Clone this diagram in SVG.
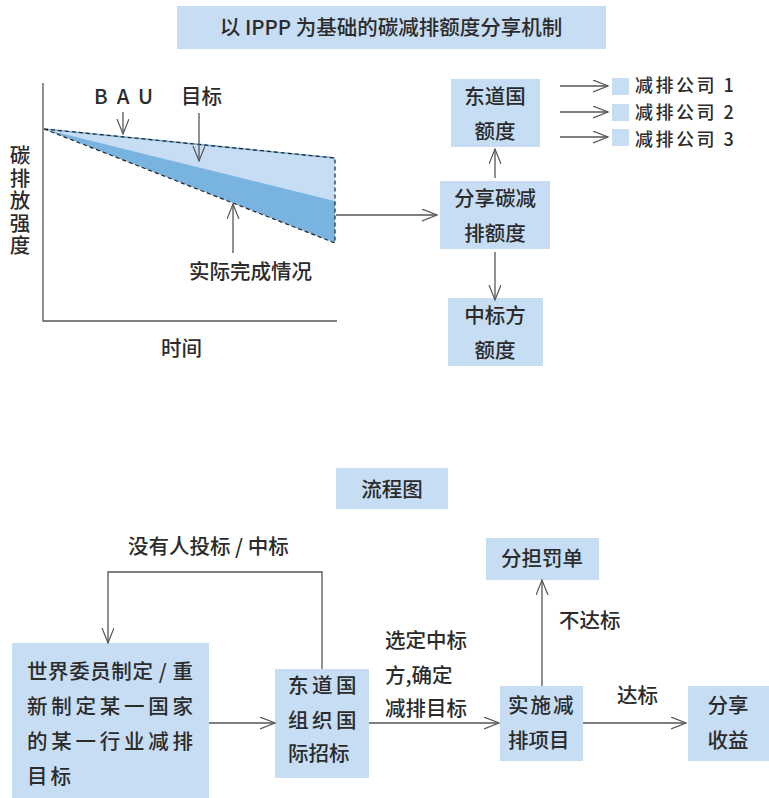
<svg xmlns="http://www.w3.org/2000/svg" width="769" height="798" viewBox="0 0 769 798">
<style>
text{font-family:"Noto Sans CJK SC","Liberation Sans",sans-serif;fill:#2b2b2b;font-size:20.5px;font-weight:500}
.box{fill:#c6ddf3}
.ln{stroke:#555;stroke-width:1.3;fill:none}
.c{text-anchor:middle}
.sp{letter-spacing:3px}
.co{font-size:18px;letter-spacing:2.5px}
</style>
<defs>
<marker id="ah" markerUnits="userSpaceOnUse" markerWidth="20" markerHeight="14" refX="15" refY="6" orient="auto" viewBox="0 0 20 14">
<path d="M0,0 L15,6 L0,12" fill="none" stroke="#555" stroke-width="1.2"/>
</marker>
</defs>
<rect width="769" height="798" fill="#fff"/>

<g id="title">
<rect class="box" x="177" y="6" width="429" height="43"/>
<text class="c" x="391" y="35">以 IPPP 为基础的碳减排额度分享机制</text>
</g>

<g id="chart">
<polygon points="44,129 335,158 335,201" fill="#c6ddf3"/>
<polygon points="44,129 335,201 335,243" fill="#79b4e1"/>
<path d="M44,129 L335,158" stroke="#79b4e1" stroke-width="1.5" fill="none"/>
<path d="M44,129 L335,158 L335,243 L44,129" stroke="#222" stroke-width="1.2" stroke-dasharray="4,3" fill="none"/>
<path d="M43,83 L43,321 L337,321" stroke="#555" stroke-width="1.3" fill="none"/>
<text x="94" y="104" style="letter-spacing:9px">BAU</text>
<text x="181" y="104">目标</text>
<text x="189" y="279">实际完成情况</text>
<text x="161" y="356">时间</text>
<text x="20" y="145" style="writing-mode:vertical-rl;letter-spacing:2px">碳排放强度</text>
</g>

<g id="n-host">
<rect class="box" x="451" y="79" width="89" height="68"/>
<text class="c" x="495" y="104">东道国</text>
<text class="c" x="495" y="139">额度</text>
</g>
<g id="n-share">
<rect class="box" x="440" y="181" width="110" height="68"/>
<text class="c" x="495" y="206">分享碳减</text>
<text class="c" x="495" y="241">排额度</text>
</g>
<g id="n-winner">
<rect class="box" x="448" y="298" width="95" height="68"/>
<text class="c" x="495" y="323">中标方</text>
<text class="c" x="495" y="358">额度</text>
</g>
<g id="n-c1">
<rect class="box" x="612" y="78" width="17" height="17"/>
<text class="co" x="635" y="92">减排公司 1</text>
</g>
<g id="n-c2">
<rect class="box" x="612" y="104" width="17" height="17"/>
<text class="co" x="635" y="119">减排公司 2</text>
</g>
<g id="n-c3">
<rect class="box" x="612" y="129" width="17" height="17"/>
<text class="co" x="635" y="146">减排公司 3</text>
</g>

<g id="n-flowtitle">
<rect class="box" x="336" y="468" width="112" height="41"/>
<text class="c" x="392" y="497">流程图</text>
</g>
<g id="n-world">
<rect class="box" x="12" y="643" width="197" height="155"/>
<text x="27" y="679" textLength="166" lengthAdjust="spacing">世界委员制定 / 重</text>
<text x="27" y="714" textLength="166" lengthAdjust="spacing">新制定某一国家</text>
<text x="27" y="749" textLength="166" lengthAdjust="spacing">的某一行业减排</text>
<text class="sp" x="27" y="784">目标</text>
</g>
<g id="n-tender">
<rect class="box" x="275" y="669" width="94" height="109"/>
<text x="288" y="693" style="letter-spacing:3.5px">东道国</text>
<text x="288" y="728" style="letter-spacing:3.5px">组织国</text>
<text x="288" y="761">际招标</text>
</g>
<g id="n-impl">
<rect class="box" x="500" y="686" width="83" height="75"/>
<text x="508" y="713" style="letter-spacing:2px">实施减</text>
<text x="508" y="748">排项目</text>
</g>
<g id="n-fine">
<rect class="box" x="486" y="538" width="113" height="42"/>
<text class="c" x="542" y="566">分担罚单</text>
</g>
<g id="n-profit">
<rect class="box" x="688" y="686" width="81" height="75"/>
<text class="c" x="728" y="713">分享</text>
<text class="c" x="728" y="748">收益</text>
</g>

<g id="connectors">
<line class="ln" x1="123" y1="112" x2="123" y2="134" marker-end="url(#ah)"/>
<line class="ln" x1="199" y1="113" x2="199" y2="161" marker-end="url(#ah)"/>
<line class="ln" x1="233" y1="253" x2="233" y2="204" marker-end="url(#ah)"/>
<line class="ln" x1="336" y1="215" x2="437" y2="215" marker-end="url(#ah)"/>
<line class="ln" x1="495" y1="178" x2="495" y2="149" marker-end="url(#ah)"/>
<line class="ln" x1="495" y1="252" x2="495" y2="300" marker-end="url(#ah)"/>
<line class="ln" x1="560" y1="86" x2="608" y2="86" marker-end="url(#ah)"/>
<line class="ln" x1="560" y1="112" x2="608" y2="112" marker-end="url(#ah)"/>
<line class="ln" x1="560" y1="137" x2="608" y2="137" marker-end="url(#ah)"/>
<path class="ln" d="M322,669 L322,572 L108,572 L108,643" marker-end="url(#ah)"/>
<line class="ln" x1="209" y1="723" x2="275" y2="723" marker-end="url(#ah)"/>
<line class="ln" x1="369" y1="723" x2="499" y2="723" marker-end="url(#ah)"/>
<line class="ln" x1="542" y1="686" x2="542" y2="580" marker-end="url(#ah)"/>
<line class="ln" x1="583" y1="723" x2="686" y2="723" marker-end="url(#ah)"/>
<text x="128" y="554">没有人投标 / 中标</text>
<text x="385" y="648">选定中标</text>
<text x="385" y="683">方,确定</text>
<text x="385" y="716">减排目标</text>
<text x="559" y="628">不达标</text>
<text x="617" y="703">达标</text>
</g>
</svg>
